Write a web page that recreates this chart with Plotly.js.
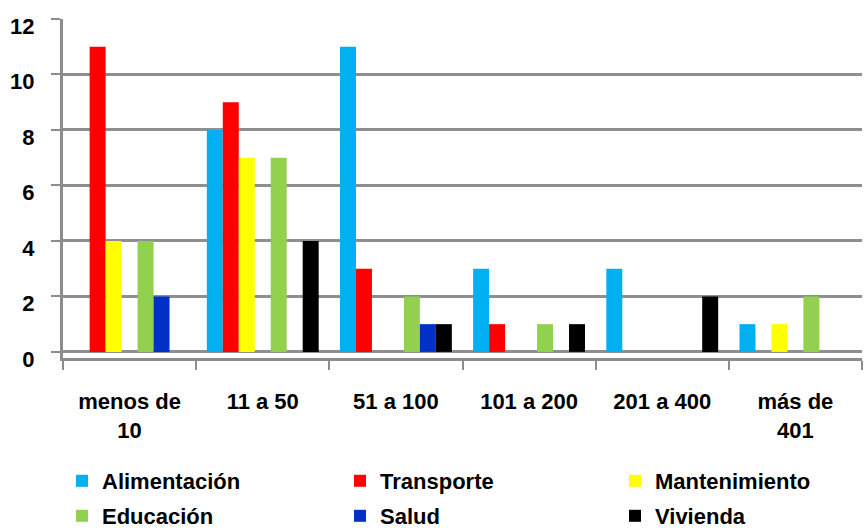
<!DOCTYPE html>
<html>
<head>
<meta charset="utf-8">
<script src="https://cdn.plot.ly/plotly-3.0.1.min.js"></script>
<style>html,body{margin:0;padding:0;background:#fff;}#chart{width:865px;height:531px;}</style>
</head>
<body>
<div id="chart"></div>
<script>
// Categories (x axis)
var categories = ['menos de<br>10', '11 a 50', '51 a 100', '101 a 200', '201 a 400', 'más de<br>401'];
var yTicks = [0, 2, 4, 6, 8, 10, 12];

// Series values
var alimentacion  = [0, 8, 11, 3, 3, 1];
var transporte    = [11, 9, 3, 1, 0, 0];
var mantenimiento = [4, 7, 0, 0, 0, 1];
var blankSeries   = [0, 0, 0, 0, 0, 0];   // empty slot in the original cluster
var educacion     = [4, 7, 2, 1, 0, 2];
var salud         = [2, 0, 1, 0, 0, 0];
var vivienda      = [0, 4, 1, 1, 2, 0];

var FONT = 'Liberation Sans, Arial, sans-serif';

function bar(name, y, color, legend, show) {
  return {
    type: 'bar', name: name, x: categories, y: y,
    marker: {color: color, line: {width: 0}},
    legend: legend, showlegend: show, hoverinfo: show ? 'x+y+name' : 'skip'
  };
}

var data = [
  bar('Alimentación', alimentacion, '#00b0f0', 'legend', true),
  bar('Transporte', transporte, '#ff0000', 'legend2', true),
  bar('Mantenimiento', mantenimiento, '#ffff00', 'legend3', true),
  bar('', blankSeries, 'rgba(0,0,0,0)', 'legend', false),
  bar('Educación', educacion, '#92d050', 'legend4', true),
  bar('Salud', salud, '#0030c8', 'legend5', true),
  bar('Vivienda', vivienda, '#000000', 'legend6', true)
];

function leg(px, py) {
  return {
    orientation: 'h', xref: 'container', yref: 'container',
    x: px / 865, y: 1 - py / 531, itemwidth: 30,
    bgcolor: 'rgba(0,0,0,0)', yanchor: 'middle', xanchor: 'left',
    font: {family: FONT, size: 22, color: '#000', weight: 'bold'}
  };
}

var layout = {
  width: 865, height: 531,
  margin: {l: 63, r: 3, t: 19, b: 173},
  paper_bgcolor: '#fff', plot_bgcolor: '#fff',
  barmode: 'group', bargap: 0.16, bargroupgap: 0,
  font: {family: FONT, color: '#000'},
  xaxis: {
    type: 'category', tickson: 'boundaries', ticks: 'outside', ticklen: 9,
    tickwidth: 2, tickcolor: '#8c8c8c',
    showline: true, linecolor: '#8c8c8c', linewidth: 3,
    showgrid: false, ticklabelstandoff: 22,
    tickfont: {family: FONT, size: 22, color: '#000', weight: 'bold'}
  },
  yaxis: {
    range: [-0.22, 12], tickvals: yTicks, ticks: 'outside', ticklen: 9,
    tickwidth: 2, tickcolor: '#8c8c8c',
    showline: true, linecolor: '#8c8c8c', linewidth: 3,
    showgrid: true, gridcolor: '#8f8f8f', gridwidth: 3, zeroline: false,
    ticklabelstandoff: 12, ticklabelshift: 7,
    tickfont: {family: FONT, size: 22, color: '#000', weight: 'bold'}
  },
  legend: leg(62, 481),
  legend2: leg(340, 481),
  legend3: leg(615, 481),
  legend4: leg(62, 516),
  legend5: leg(340, 516),
  legend6: leg(615, 516),
  showlegend: true
};

Plotly.newPlot('chart', data, layout, {displayModeBar: false, staticPlot: true});
</script>
</body>
</html>
